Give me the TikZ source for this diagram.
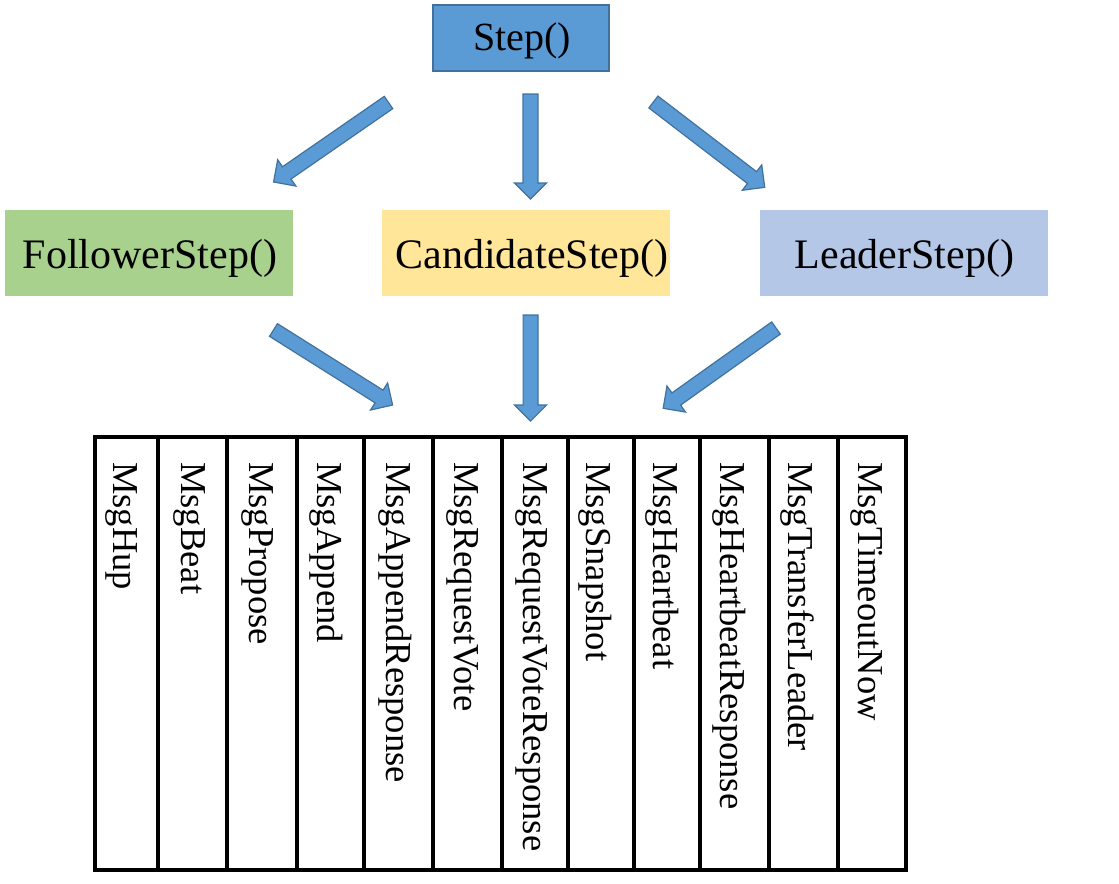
\documentclass[tikz,border=0pt]{standalone}
\usepackage{fontspec}
\setmainfont{Liberation Serif}
\usetikzlibrary{calc}
\definecolor{stepblue}{HTML}{5B9BD5}
\definecolor{stepborder}{HTML}{41719C}
\definecolor{fgreen}{HTML}{A9D18E}
\definecolor{cyellow}{HTML}{FFE699}
\definecolor{lblue}{HTML}{B4C7E7}
\newcommand{\blkarrow}[2]{%
  \coordinate (hb) at ($(#2)!12pt!(#1)$);
  \draw[blk] ($(#1)!5.6pt!90:(#2)$) -- ($(hb)!5.6pt!-90:(#1)$) -- ($(hb)!12pt!-90:(#1)$) -- (#2)
     -- ($(hb)!12pt!90:(#1)$) -- ($(hb)!5.6pt!90:(#1)$) -- ($(#1)!5.6pt!-90:(#2)$) -- cycle;}
\begin{document}
\begin{tikzpicture}[x=0.75pt,y=-0.75pt,
  box/.style={rectangle, inner sep=0pt, minimum width=216pt, minimum height=64.5pt},
  lbl/.style={inner sep=0pt, anchor=base},
  rowfont/.style={font=\fontsize{31.5}{36}\selectfont},
  blk/.style={fill=stepblue, draw=stepborder, line width=0.9pt, line join=miter},
  msg/.style={inner sep=0pt, anchor=base west, rotate=-90, font=\fontsize{27.4}{30}\selectfont},
  tbl/.style={line width=2.3pt}]
\useasboundingbox (0,0) rectangle (1119,883);

% top box
\node[box, fill=stepblue, draw=stepborder, line width=1.5pt, minimum width=132pt, minimum height=49.5pt] (stepn) at (521,38) {};
\node[lbl, font=\fontsize{30}{36}\selectfont] (steptxt) at (522,50.7) {Step()};

% second row
\node[box, fill=fgreen] (follower) at (149,253) {};
\node[lbl, rowfont] (followertxt) at (150,268.3) {FollowerStep()};
\node[box, fill=cyellow] (candidate) at (525.5,253) {};
\node[lbl, rowfont] (candidatetxt) at (532,268.3) {CandidateStep()};
\node[box, fill=lblue] (leader) at (903.5,253) {};
\node[lbl, rowfont] (leadertxt) at (904.5,268.3) {LeaderStep()};

% arrows
\coordinate (t1) at (388.5,102.5); \coordinate (p1) at (273.6,182);
\coordinate (t2) at (530.5,94);    \coordinate (p2) at (530.5,199);
\coordinate (t3) at (653.4,102);   \coordinate (p3) at (764.7,187.3);
\coordinate (t4) at (273.5,330);   \coordinate (p4) at (392.6,405);
\coordinate (t5) at (530.6,315);   \coordinate (p5) at (530.6,421);
\coordinate (t6) at (776,328);     \coordinate (p6) at (663.2,408.3);
\blkarrow{t1}{p1}
\blkarrow{t2}{p2}
\blkarrow{t3}{p3}
\blkarrow{t4}{p4}
\blkarrow{t5}{p5}
\blkarrow{t6}{p6}

% table
\draw[tbl] (95,437) rectangle (906,870);
\foreach \x in {158,227,297,364,433,502,568,634,700,769,838}
  \draw[tbl] (\x,437) -- (\x,870);
\foreach \x/\t [count=\i] in {113.3/MsgHup, 181.7/MsgBeat, 249.3/MsgPropose, 317.7/MsgAppend,
    386/MsgAppendResponse, 454.3/MsgRequestVote, 523.3/MsgRequestVoteResponse, 586.7/MsgSnapshot,
    653.3/MsgHeartbeat, 720/MsgHeartbeatResponse, 788.3/MsgTransferLeader, 858.3/MsgTimeoutNow}
  \node[msg] (m\i) at (\x,462) {\t};
\end{tikzpicture}
\end{document}
